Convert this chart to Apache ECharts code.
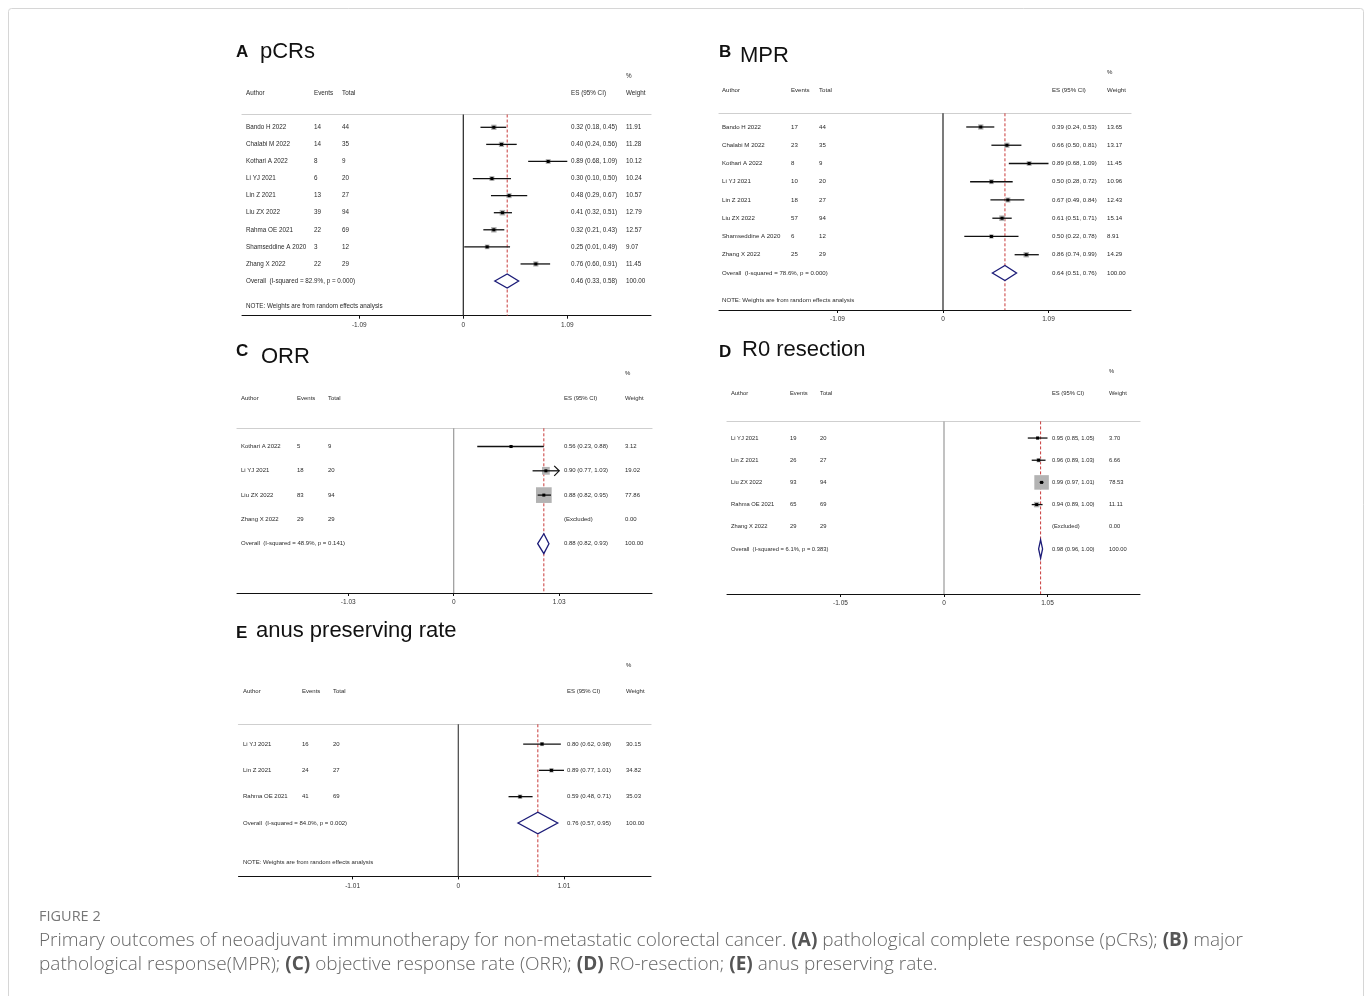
<!DOCTYPE html>
<html>
<head>
<meta charset="utf-8">
<script src="https://cdn.jsdelivr.net/npm/echarts@6/dist/echarts.min.js"></script>
<style>
  html, body { margin: 0; padding: 0; background: #fff; }
  #chart { width: 1372px; height: 996px; }
</style>
</head>
<body>
<div id="chart"></div>
<script>
// ---------- A: pathological complete response (pCRs) ----------
const pcrAuthors = ['Bando H 2022', 'Chalabi M 2022', 'Kothari A 2022', 'Li YJ 2021', 'Lin Z 2021', 'Liu ZX 2022', 'Rahma OE 2021', 'Shamseddine A 2020', 'Zhang X 2022'];
const pcrEvents  = [14, 14, 8, 6, 13, 39, 22, 3, 22];
const pcrTotals  = [44, 35, 9, 20, 27, 94, 69, 12, 29];
const pcrES      = [0.32, 0.40, 0.89, 0.30, 0.48, 0.41, 0.32, 0.25, 0.76];
const pcrLo      = [0.18, 0.24, 0.68, 0.10, 0.29, 0.32, 0.21, 0.01, 0.60];
const pcrHi      = [0.45, 0.56, 1.09, 0.50, 0.67, 0.51, 0.43, 0.49, 0.91];
const pcrWeights = [11.91, 11.28, 10.12, 10.24, 10.57, 12.79, 12.57, 9.07, 11.45];
const pcrOverall = [0.46, 0.33, 0.58];
const pcrHet     = 'I-squared = 82.9%, p = 0.000';
const pcrTicks   = [-1.09, 0, 1.09];

// ---------- B: major pathological response (MPR) ----------
const mprAuthors = ['Bando H 2022', 'Chalabi M 2022', 'Kothari A 2022', 'Li YJ 2021', 'Lin Z 2021', 'Liu ZX 2022', 'Shamseddine A 2020', 'Zhang X 2022'];
const mprEvents  = [17, 23, 8, 10, 18, 57, 6, 25];
const mprTotals  = [44, 35, 9, 20, 27, 94, 12, 29];
const mprES      = [0.39, 0.66, 0.89, 0.50, 0.67, 0.61, 0.50, 0.86];
const mprLo      = [0.24, 0.50, 0.68, 0.28, 0.49, 0.51, 0.22, 0.74];
const mprHi      = [0.53, 0.81, 1.09, 0.72, 0.84, 0.71, 0.78, 0.99];
const mprWeights = [13.65, 13.17, 11.45, 10.96, 12.43, 15.14, 8.91, 14.29];
const mprOverall = [0.64, 0.51, 0.76];
const mprHet     = 'I-squared = 78.6%, p = 0.000';
const mprTicks   = [-1.09, 0, 1.09];

// ---------- C: objective response rate (ORR) ----------
const orrAuthors = ['Kothari A 2022', 'Li YJ 2021', 'Liu ZX 2022', 'Zhang X 2022'];
const orrEvents  = [5, 18, 83, 29];
const orrTotals  = [9, 20, 94, 29];
const orrES      = [0.56, 0.90, 0.88, null];
const orrLo      = [0.23, 0.77, 0.82, null];
const orrHi      = [0.88, 1.03, 0.95, null];
const orrWeights = [3.12, 19.02, 77.86, 0.00];
const orrArrows  = [false, true, false, false];
const orrOverall = [0.88, 0.82, 0.93];
const orrHet     = 'I-squared = 48.9%, p = 0.141';
const orrTicks   = [-1.03, 0, 1.03];

// ---------- D: R0 resection ----------
const r0Authors = ['Li YJ 2021', 'Lin Z 2021', 'Liu ZX 2022', 'Rahma OE 2021', 'Zhang X 2022'];
const r0Events  = [19, 26, 93, 65, 29];
const r0Totals  = [20, 27, 94, 69, 29];
const r0ES      = [0.95, 0.96, 0.99, 0.94, null];
const r0Lo      = [0.85, 0.89, 0.97, 0.89, null];
const r0Hi      = [1.05, 1.03, 1.01, 1.00, null];
const r0Weights = [3.70, 6.66, 78.53, 11.11, 0.00];
const r0Overall = [0.98, 0.96, 1.00];
const r0Het     = 'I-squared = 6.1%, p = 0.383';
const r0Ticks   = [-1.05, 0, 1.05];

// ---------- E: anus preserving rate ----------
const apAuthors = ['Li YJ 2021', 'Lin Z 2021', 'Rahma OE 2021'];
const apEvents  = [16, 24, 41];
const apTotals  = [20, 27, 69];
const apES      = [0.80, 0.89, 0.59];
const apLo      = [0.62, 0.77, 0.48];
const apHi      = [0.98, 1.01, 0.71];
const apWeights = [30.15, 34.82, 35.03];
const apOverall = [0.76, 0.57, 0.95];
const apHet     = 'I-squared = 84.0%, p = 0.002';
const apTicks   = [-1.01, 0, 1.01];

const NOTE_TEXT = 'NOTE: Weights are from random effects analysis';
const PLOT_FONT = '"Liberation Sans", Arial, sans-serif';
const CAPTION_FONT = '"Open Sans", "Noto Sans", sans-serif';

// Page placement of each forest plot (pixels)
const panels = [
  { letter: 'A', title: 'pCRs', authors: pcrAuthors, events: pcrEvents, totals: pcrTotals, es: pcrES, lo: pcrLo, hi: pcrHi,
    weights: pcrWeights, overall: pcrOverall, het: pcrHet, ticks: pcrTicks, arrows: null, note: true,
    layout: { left: 242, right: 651, zero: 463.3, tickPx: 104, top: 114.5, bottom: 315.7,
      cols: { author: 246, events: 314, total: 342, es: 571, weight: 626 }, font: 6.3, box: 1.55, zeroColor: '#222',
      letterPos: [236, 52], titlePos: [260, 52.3] } },
  { letter: 'B', title: 'MPR', authors: mprAuthors, events: mprEvents, totals: mprTotals, es: mprES, lo: mprLo, hi: mprHi,
    weights: mprWeights, overall: mprOverall, het: mprHet, ticks: mprTicks, arrows: null, note: true,
    layout: { left: 719, right: 1131, zero: 943, tickPx: 105.5, top: 113.3, bottom: 310,
      cols: { author: 722, events: 791, total: 819, es: 1052, weight: 1107 }, font: 6.1, box: 1.45, zeroColor: '#222',
      letterPos: [719, 52], titlePos: [740, 56.3] } },
  { letter: 'C', title: 'ORR', authors: orrAuthors, events: orrEvents, totals: orrTotals, es: orrES, lo: orrLo, hi: orrHi,
    weights: orrWeights, overall: orrOverall, het: orrHet, ticks: orrTicks, arrows: orrArrows, note: false,
    layout: { left: 237, right: 652, zero: 453.7, tickPx: 105.5, top: 428.3, bottom: 593,
      cols: { author: 241, events: 297, total: 328, es: 564, weight: 625 }, font: 6.0, box: 1.78, zeroColor: '#999',
      letterPos: [236, 351], titlePos: [261, 357.3] } },
  { letter: 'D', title: 'R0 resection', authors: r0Authors, events: r0Events, totals: r0Totals, es: r0ES, lo: r0Lo, hi: r0Hi,
    weights: r0Weights, overall: r0Overall, het: r0Het, ticks: r0Ticks, arrows: null, note: false,
    layout: { left: 727, right: 1140, zero: 944, tickPx: 103.5, top: 421.4, bottom: 594,
      cols: { author: 731, events: 790, total: 820, es: 1052, weight: 1109 }, font: 5.8, box: 1.64, zeroColor: '#999',
      letterPos: [719, 352], titlePos: [742, 350.3] } },
  { letter: 'E', title: 'anus preserving rate', authors: apAuthors, events: apEvents, totals: apTotals, es: apES, lo: apLo, hi: apHi,
    weights: apWeights, overall: apOverall, het: apHet, ticks: apTicks, arrows: null, note: true,
    layout: { left: 238.5, right: 651, zero: 458.3, tickPx: 105.7, top: 724.3, bottom: 876.4,
      cols: { author: 243, events: 302, total: 333, es: 567, weight: 626 }, font: 6.0, box: 0.75, zeroColor: '#444',
      letterPos: [236, 633], titlePos: [256, 631.3] } }
];

const f2 = v => v.toFixed(2);
const ciText = (e, l, h) => f2(e) + ' (' + f2(l) + ', ' + f2(h) + ')';
const tickText = v => (v === 0 ? '0' : v.toFixed(2));

const grids = [], xAxes = [], yAxes = [], series = [], graphics = [];

panels.forEach((p, k) => {
  const L = p.layout;
  const unit = L.tickPx / p.ticks[p.ticks.length - 1];
  const n = p.authors.length;              // row index of the pooled estimate
  const xmin = (L.left - L.zero) / unit;
  const xmax = (L.right - L.zero) / unit;

  grids.push({ left: L.left, top: L.top, width: L.right - L.left, height: L.bottom - L.top, outerBoundsMode: 'none' });

  // bottom scale
  xAxes.push({
    gridIndex: k, type: 'value', min: xmin, max: xmax, position: 'bottom',
    axisLine: { onZero: false, lineStyle: { color: '#111', width: 1 } },
    axisTick: { customValues: p.ticks, length: 3, lineStyle: { color: '#111', width: 1 } },
    axisLabel: { customValues: p.ticks, formatter: tickText, fontSize: 6.5, color: '#333', margin: 6, fontFamily: PLOT_FONT },
    splitLine: { show: false }
  });
  // rule under the column headings
  xAxes.push({
    gridIndex: k, type: 'value', min: xmin, max: xmax, position: 'top',
    axisLine: { onZero: false, lineStyle: { color: '#cfcfcf', width: 1.2 } },
    axisTick: { show: false }, axisLabel: { show: false }, splitLine: { show: false }
  });
  yAxes.push({ gridIndex: k, type: 'value', inverse: true, min: -0.75, max: n + 2.03, show: false });

  const xi = 2 * k, yi = k;

  // vertical reference lines: null line at 0 and pooled estimate
  const vline = (value, style) => ({
    type: 'custom', xAxisIndex: xi, yAxisIndex: yi, silent: true, z: 1,
    data: [[value, 0]],
    renderItem: (params, api) => {
      const x = api.coord([api.value(0), 0])[0];
      const cs = params.coordSys;
      return { type: 'line', shape: { x1: x, y1: cs.y, x2: x, y2: cs.y + cs.height }, style: style };
    }
  });
  series.push(vline(0, { stroke: L.zeroColor, lineWidth: 1.2 }));
  series.push(vline(p.overall[0], { stroke: '#c83a3a', lineWidth: 1, lineDash: [3, 2] }));

  // study estimates: weight box, CI line, point
  const studyData = [];
  p.es.forEach((e, i) => {
    if (e == null) return;
    studyData.push([e, p.lo[i], p.hi[i], p.weights[i], i, p.arrows && p.arrows[i] ? 1 : 0]);
  });
  series.push({
    type: 'custom', xAxisIndex: xi, yAxisIndex: yi, silent: true, z: 3,
    data: studyData,
    renderItem: (params, api) => {
      const row = api.value(4);
      const c = api.coord([api.value(0), row]);
      const l = api.coord([api.value(1), row]);
      const h = api.coord([api.value(2), row]);
      const side = L.box * Math.sqrt(api.value(3));
      const children = [
        { type: 'rect', shape: { x: c[0] - side / 2, y: c[1] - side / 2, width: side, height: side }, style: { fill: '#b3b3b3' } },
        { type: 'line', shape: { x1: l[0], y1: c[1], x2: h[0], y2: c[1] }, style: { stroke: '#111', lineWidth: 1.3 } },
        { type: 'rect', shape: { x: c[0] - 1.5, y: c[1] - 1.5, width: 3, height: 3 }, style: { fill: '#000' } }
      ];
      if (api.value(5)) {
        children.push({ type: 'polyline', shape: { points: [[h[0] - 5, c[1] - 5], [h[0], c[1]], [h[0] - 5, c[1] + 5]] },
          style: { stroke: '#111', lineWidth: 1.2, fill: null } });
      }
      return { type: 'group', children: children };
    }
  });

  // pooled estimate diamond
  series.push({
    type: 'custom', xAxisIndex: xi, yAxisIndex: yi, silent: true, z: 4,
    data: [[p.overall[0], p.overall[1], p.overall[2], n]],
    renderItem: (params, api) => {
      const row = api.value(3);
      const c = api.coord([api.value(0), row]);
      const l = api.coord([api.value(1), row]);
      const h = api.coord([api.value(2), row]);
      const hh = api.size([0, 0.82])[1] / 2;
      return { type: 'polygon', shape: { points: [[l[0], c[1]], [c[0], c[1] - hh], [h[0], c[1]], [c[0], c[1] + hh]] },
        style: { stroke: '#1c1c78', lineWidth: 1.3, fill: '#fff' } };
    }
  });

  // table text, one line per row
  const C = L.cols;
  const lines = [];
  lines.push({ row: -3, cells: [[C.weight, '%']] });
  lines.push({ row: -2, cells: [[C.author, 'Author'], [C.events, 'Events'], [C.total, 'Total'], [C.es, 'ES (95% CI)'], [C.weight, 'Weight']] });
  p.authors.forEach((a, i) => {
    lines.push({ row: i, cells: [
      [C.author, a], [C.events, String(p.events[i])], [C.total, String(p.totals[i])],
      [C.es, p.es[i] == null ? '(Excluded)' : ciText(p.es[i], p.lo[i], p.hi[i])],
      [C.weight, f2(p.weights[i])]
    ] });
  });
  lines.push({ row: n, cells: [[C.author, 'Overall  (' + p.het + ')'], [C.es, ciText(p.overall[0], p.overall[1], p.overall[2])], [C.weight, '100.00']] });
  if (p.note) lines.push({ row: n + 1.5, cells: [[C.author, NOTE_TEXT]] });

  series.push({
    type: 'custom', xAxisIndex: xi, yAxisIndex: yi, silent: true, z: 5, clip: false,
    data: lines.map(ln => [0, ln.row]),
    renderItem: (params, api) => {
      const ln = lines[params.dataIndex];
      const y = api.coord([0, api.value(1)])[1];
      return { type: 'group', children: ln.cells.map(cell => ({
        type: 'text', x: cell[0], y: y,
        style: { text: cell[1], fontSize: L.font, fontFamily: PLOT_FONT, fill: '#2a2a2a', align: 'left', verticalAlign: 'middle' }
      })) };
    }
  });

  // panel heading
  graphics.push({ type: 'text', x: L.letterPos[0], y: L.letterPos[1], silent: true,
    style: { text: p.letter, fontSize: 17, fontWeight: 'bold', fontFamily: PLOT_FONT, fill: '#111', align: 'left', verticalAlign: 'middle' } });
  graphics.push({ type: 'text', x: L.titlePos[0], y: L.titlePos[1], silent: true,
    style: { text: p.title, fontSize: 22, fontFamily: PLOT_FONT, fill: '#111', align: 'left', verticalAlign: 'middle' } });
});

// figure frame and caption
graphics.push({ type: 'rect', silent: true, z: -1, shape: { x: 8.5, y: 8.5, width: 1355, height: 1000, r: 3 },
  style: { fill: 'none', stroke: '#d6d6d6', lineWidth: 1 } });
graphics.push({ type: 'text', x: 39, y: 917, silent: true,
  style: { text: 'FIGURE 2', fontSize: 14.5, fontFamily: CAPTION_FONT, fill: '#777', align: 'left', verticalAlign: 'middle' } });
const CAP_SIZE = 19;
const capRich = { b: { fontWeight: 'bold', fontSize: CAP_SIZE, fontFamily: CAPTION_FONT, fill: '#555' } };
graphics.push({ type: 'text', x: 39, y: 941, silent: true,
  style: { text: 'Primary outcomes of neoadjuvant immunotherapy for non-metastatic colorectal cancer. {b|(A)} pathological complete response (pCRs); {b|(B)} major',
    fontSize: CAP_SIZE, fontWeight: 300, fontFamily: CAPTION_FONT, fill: '#666', align: 'left', verticalAlign: 'middle', rich: capRich } });
graphics.push({ type: 'text', x: 39, y: 965, silent: true,
  style: { text: 'pathological response(MPR); {b|(C)} objective response rate (ORR); {b|(D)} RO-resection; {b|(E)} anus preserving rate.',
    fontSize: CAP_SIZE, fontWeight: 300, fontFamily: CAPTION_FONT, fill: '#666', align: 'left', verticalAlign: 'middle', rich: capRich } });

const chart = echarts.init(document.getElementById('chart'), null, { renderer: 'canvas', width: 1372, height: 996 });
chart.setOption({
  animation: false,
  backgroundColor: '#fff',
  grid: grids,
  xAxis: xAxes,
  yAxis: yAxes,
  series: series,
  graphic: graphics
});
</script>
</body>
</html>
